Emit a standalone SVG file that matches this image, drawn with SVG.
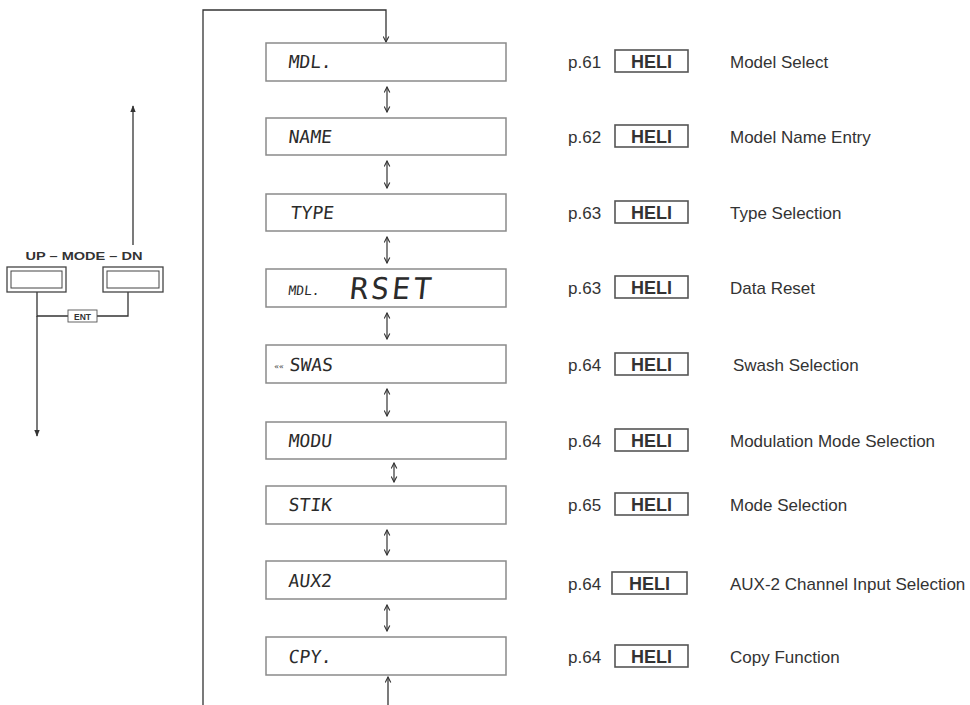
<svg xmlns="http://www.w3.org/2000/svg" width="970" height="705" viewBox="0 0 970 705">
<defs>
<style>
.ln{stroke:#333;stroke-width:1.3;fill:none}
.box{fill:#fff;stroke:#8a8a8a;stroke-width:1.5}
.lcd{font-family:"DejaVu Sans Mono","Liberation Mono",monospace;font-size:18px;fill:#2b2b2b}
.pg{font-family:"Liberation Sans",Arial,sans-serif;font-size:17px;fill:#333}
.heli{font-family:"Liberation Sans",Arial,sans-serif;font-size:18px;font-weight:bold;fill:#333}
.hbox{fill:#fff;stroke:#555;stroke-width:1.6}
.desc{font-family:"Liberation Sans",Arial,sans-serif;font-size:17px;fill:#333}
.dbl{stroke:#333;stroke-width:1.2;fill:none;marker-start:url(#chev);marker-end:url(#chev)}
.sm{font-family:"Liberation Sans",Arial,sans-serif;font-weight:bold;fill:#333}
</style>
<marker id="chev" viewBox="0 0 10 10" refX="9" refY="5" markerWidth="7" markerHeight="7" markerUnits="userSpaceOnUse" orient="auto-start-reverse">
<path d="M1,1 L9,5 L1,9" fill="none" stroke="#333" stroke-width="1.6"/>
</marker>
<marker id="tri" viewBox="0 0 10 10" refX="9" refY="5" markerWidth="7" markerHeight="7" markerUnits="userSpaceOnUse" orient="auto">
<path d="M0,1 L10,5 L0,9 z" fill="#333"/>
</marker>
</defs>
<rect width="970" height="705" fill="#fff"/>

<g id="connectors">
<polyline class="ln" points="203,705 203,10 386,10 386,42" marker-end="url(#chev)"/>
<line class="ln" x1="388" y1="705" x2="388" y2="677" marker-end="url(#chev)"/>
<line class="dbl" x1="387" y1="87" x2="387" y2="112"/>
<line class="dbl" x1="387" y1="161" x2="387" y2="188"/>
<line class="dbl" x1="387" y1="237" x2="387" y2="263"/>
<line class="dbl" x1="387" y1="313" x2="387" y2="339"/>
<line class="dbl" x1="387" y1="389" x2="387" y2="416"/>
<line class="dbl" x1="394" y1="463" x2="394" y2="482"/>
<line class="dbl" x1="387" y1="530" x2="387" y2="555"/>
<line class="dbl" x1="387" y1="605" x2="387" y2="631"/>
<line class="ln" x1="133" y1="245" x2="133" y2="106" marker-end="url(#tri)"/>
<polyline class="ln" points="37,292 37,316 68,316"/>
<polyline class="ln" points="97,316 128,316 128,292"/>
<line class="ln" x1="37" y1="316" x2="37" y2="436" marker-end="url(#tri)"/>
</g>

<g id="mode-keys">
<text class="sm" x="84" y="260" style="font-size:11px" text-anchor="middle" textLength="117" lengthAdjust="spacingAndGlyphs">UP – MODE – DN</text>
<rect x="7" y="267" width="59" height="25" fill="#fff" stroke="#444" stroke-width="1.3"/>
<rect x="11" y="271" width="51" height="17" fill="#fff" stroke="#444" stroke-width="1"/>
<rect x="103" y="267" width="60" height="25" fill="#fff" stroke="#444" stroke-width="1.3"/>
<rect x="107" y="271" width="52" height="17" fill="#fff" stroke="#444" stroke-width="1"/>
<rect x="68" y="310" width="29" height="12" fill="#fff" stroke="#555" stroke-width="0.9"/>
<text class="sm" x="82.5" y="319.5" style="font-size:8.5px" text-anchor="middle">ENT</text>
</g>

<g id="n-mdl">
<rect class="box" x="266" y="43" width="240" height="38"/>
<text class="lcd" transform="translate(288,68) skewX(-6)">MDL.</text>
<text class="pg" x="568" y="68">p.61</text>
<rect class="hbox" x="615" y="50" width="73" height="22"/>
<text class="heli" x="651.5" y="68" text-anchor="middle">HELI</text>
<text class="desc" x="730" y="68">Model Select</text>
</g>
<g id="n-name">
<rect class="box" x="266" y="118" width="240" height="37"/>
<text class="lcd" transform="translate(288,143) skewX(-6)">NAME</text>
<text class="pg" x="568" y="143">p.62</text>
<rect class="hbox" x="615" y="125" width="73" height="22"/>
<text class="heli" x="651.5" y="143" text-anchor="middle">HELI</text>
<text class="desc" x="730" y="143">Model Name Entry</text>
</g>
<g id="n-type">
<rect class="box" x="266" y="194" width="240" height="37"/>
<text class="lcd" transform="translate(290,219) skewX(-6)">TYPE</text>
<text class="pg" x="568" y="219">p.63</text>
<rect class="hbox" x="615" y="201" width="73" height="22"/>
<text class="heli" x="651.5" y="219" text-anchor="middle">HELI</text>
<text class="desc" x="730" y="219">Type Selection</text>
</g>
<g id="n-rset">
<rect class="box" x="266" y="269" width="240" height="38"/>
<text class="lcd" style="font-size:13px" transform="translate(288,295) skewX(-6)">MDL.</text>
<text class="lcd" style="font-size:30px;letter-spacing:3px" transform="translate(349,299) skewX(-6)">RSET</text>
<text class="pg" x="568" y="294">p.63</text>
<rect class="hbox" x="615" y="276" width="73" height="22"/>
<text class="heli" x="651.5" y="294" text-anchor="middle">HELI</text>
<text class="desc" x="730" y="294">Data Reset</text>
</g>
<g id="n-swas">
<rect class="box" x="266" y="345" width="240" height="38"/>
<text class="lcd" style="font-size:8px" transform="translate(274,369) skewX(-6)">««</text>
<text class="lcd" transform="translate(289,371) skewX(-6)">SWAS</text>
<text class="pg" x="568" y="371">p.64</text>
<rect class="hbox" x="615" y="353" width="73" height="22"/>
<text class="heli" x="651.5" y="371" text-anchor="middle">HELI</text>
<text class="desc" x="733" y="371">Swash Selection</text>
</g>
<g id="n-modu">
<rect class="box" x="266" y="422" width="240" height="37"/>
<text class="lcd" transform="translate(288,447) skewX(-6)">MODU</text>
<text class="pg" x="568" y="447">p.64</text>
<rect class="hbox" x="615" y="429" width="73" height="22"/>
<text class="heli" x="651.5" y="447" text-anchor="middle">HELI</text>
<text class="desc" x="730" y="447">Modulation Mode Selection</text>
</g>
<g id="n-stik">
<rect class="box" x="266" y="486" width="240" height="38"/>
<text class="lcd" transform="translate(288,511) skewX(-6)">STIK</text>
<text class="pg" x="568" y="511">p.65</text>
<rect class="hbox" x="615" y="493" width="73" height="22"/>
<text class="heli" x="651.5" y="511" text-anchor="middle">HELI</text>
<text class="desc" x="730" y="511">Mode Selection</text>
</g>
<g id="n-aux2">
<rect class="box" x="266" y="561" width="240" height="38"/>
<text class="lcd" transform="translate(288,587) skewX(-6)">AUX2</text>
<text class="pg" x="568" y="590">p.64</text>
<rect class="hbox" x="612" y="572" width="75" height="22"/>
<text class="heli" x="649.5" y="590" text-anchor="middle">HELI</text>
<text class="desc" x="730" y="590">AUX-2 Channel Input Selection</text>
</g>
<g id="n-cpy">
<rect class="box" x="266" y="637" width="240" height="38"/>
<text class="lcd" transform="translate(288,663) skewX(-6)">CPY.</text>
<text class="pg" x="568" y="663">p.64</text>
<rect class="hbox" x="615" y="645" width="73" height="22"/>
<text class="heli" x="651.5" y="663" text-anchor="middle">HELI</text>
<text class="desc" x="730" y="663">Copy Function</text>
</g>
</svg>
